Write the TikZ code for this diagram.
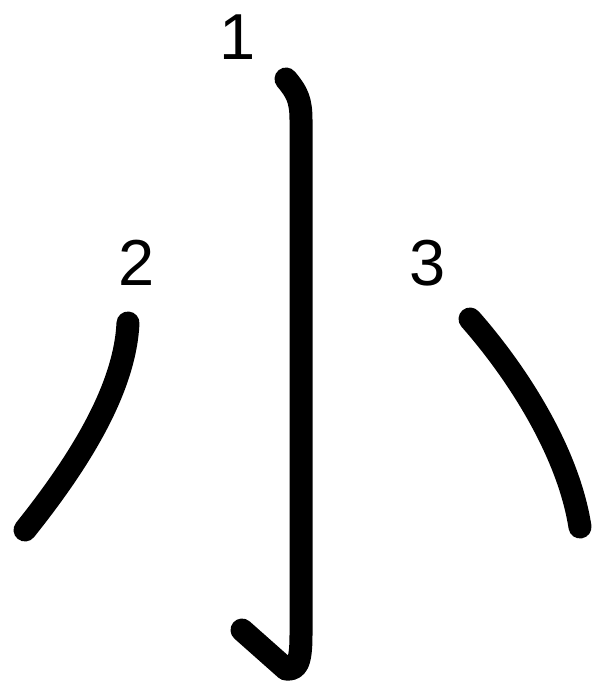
\documentclass[tikz,border=0pt]{standalone}
\usepackage{fontspec}
\setmainfont{Liberation Sans}
\usepackage{tikz}
\tikzset{
  trait/.style={line width=23pt, line cap=round, line join=round, draw=black},
  numero/.style={font=\fontsize{65}{65}\selectfont, inner sep=0pt, text=black},
}

\begin{document}
\begin{tikzpicture}[x=1pt, y=-1pt]
    \useasboundingbox (0,0) rectangle (597,684);

    \node[numero] (num1) at (238,37) {1};
    \node[numero] (num2) at (137,263) {2};
    \node[numero] (num3) at (428,263) {3};

    % trait 1 : vertical avec crochet
    \draw[trait] (286,79) .. controls (297,92) and (301,100) .. (301,120)
      -- (301,635) .. controls (301,665) and (296,670) .. (286,669)
      -- (242,630);
    % trait 2 : oblique vers la gauche
    \draw[trait] (128,323) .. controls (125,385) and (85,455) .. (25,530);
    % trait 3 : oblique vers la droite
    \draw[trait] (470,319) .. controls (515,370) and (568,450) .. (580,527);
  \end{tikzpicture}
\end{document}
